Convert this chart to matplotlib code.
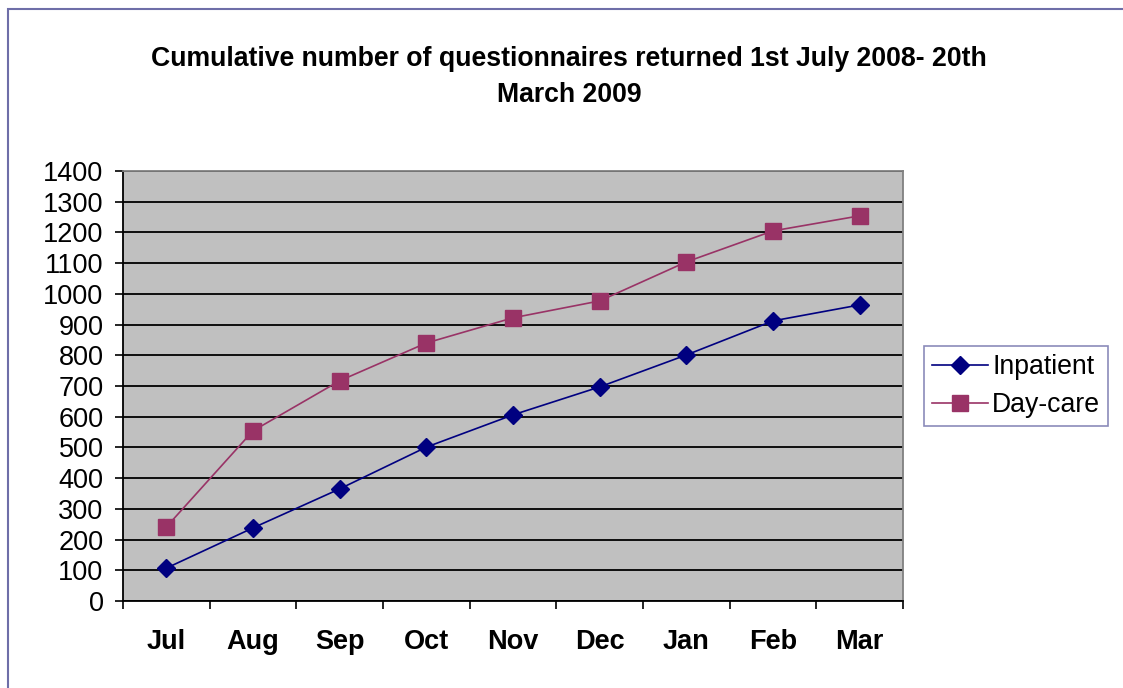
import matplotlib
matplotlib.use("Agg")
import matplotlib.pyplot as plt
from matplotlib.patches import Rectangle
import numpy as np

months = ["Jul", "Aug", "Sep", "Oct", "Nov", "Dec", "Jan", "Feb", "Mar"]
inpatient = [107, 238, 365, 501, 606, 697, 801, 912, 964]
daycare = [241, 554, 717, 840, 922, 977, 1104, 1205, 1254]
yticks = list(range(0, 1401, 100))
title = "Cumulative number of questionnaires returned 1st July 2008- 20th\nMarch 2009"

plt.rcParams['font.family'] = ['Liberation Sans', 'DejaVu Sans']

fig = plt.figure(figsize=(11.23, 6.88), dpi=100)
fig.patch.set_facecolor('white')
ax = fig.add_axes([123/1123, 1-601/688, (903-123)/1123, (601-171)/688])
ax.set_facecolor('#C0C0C0')

x = np.arange(len(months))
l1, = ax.plot(x, inpatient, color='#000080', lw=1.2, marker='D', ms=9,
              markerfacecolor='#000080', markeredgecolor='#000080', label='Inpatient')
l2, = ax.plot(x, daycare, color='#993366', lw=1.2, marker='s', ms=11,
              markerfacecolor='#993366', markeredgecolor='#993366', label='Day-care')

ax.set_xlim(-0.5, len(months) - 0.5)
ax.set_ylim(0, 1400)
ax.set_yticks(yticks)
ax.set_yticklabels([str(v) for v in yticks], fontsize=19.5)
ax.yaxis.grid(True, color='black', lw=1.3)
ax.set_axisbelow(True)

ax.set_xticks(np.arange(-0.5, len(months), 1.0))
ax.set_xticklabels([])
ax.set_xticks(x, minor=True)
ax.set_xticklabels(months, minor=True, fontsize=19.5, fontweight='bold')
ax.tick_params(axis='x', which='minor', length=0, pad=20)
ax.tick_params(axis='x', which='major', length=6, width=1.2, direction='out')
ax.tick_params(axis='y', length=6, width=1.2, direction='out', pad=8)

ax.spines['left'].set_color('black')
ax.spines['bottom'].set_color('black')
ax.spines['left'].set_linewidth(1.3)
ax.spines['bottom'].set_linewidth(1.3)
ax.spines['top'].set_color('#808080')
ax.spines['right'].set_color('#808080')
ax.spines['top'].set_linewidth(1.3)
ax.spines['right'].set_linewidth(1.3)

fig.text(569/1123, 1-77/688, title, ha='center', va='center', fontsize=19.2,
         fontweight='bold', linespacing=1.5)

leg = fig.legend(handles=[l1, l2], loc='center left',
                 bbox_to_anchor=(924/1123, 1-386/688), fontsize=19.2,
                 frameon=True, fancybox=False, handlelength=2.1,
                 borderpad=0.3, labelspacing=0.45, handletextpad=0.15,
                 borderaxespad=0)
leg.get_frame().set_edgecolor('#6E6EA8')
leg.get_frame().set_linewidth(1.2)

fig.patches.append(Rectangle((8/1123, -0.05), 1.2, 1-9/688+0.05,
                             transform=fig.transFigure, fill=False,
                             edgecolor='#6E6EA8', lw=1.5))

fig.savefig('out.png', dpi=100)
